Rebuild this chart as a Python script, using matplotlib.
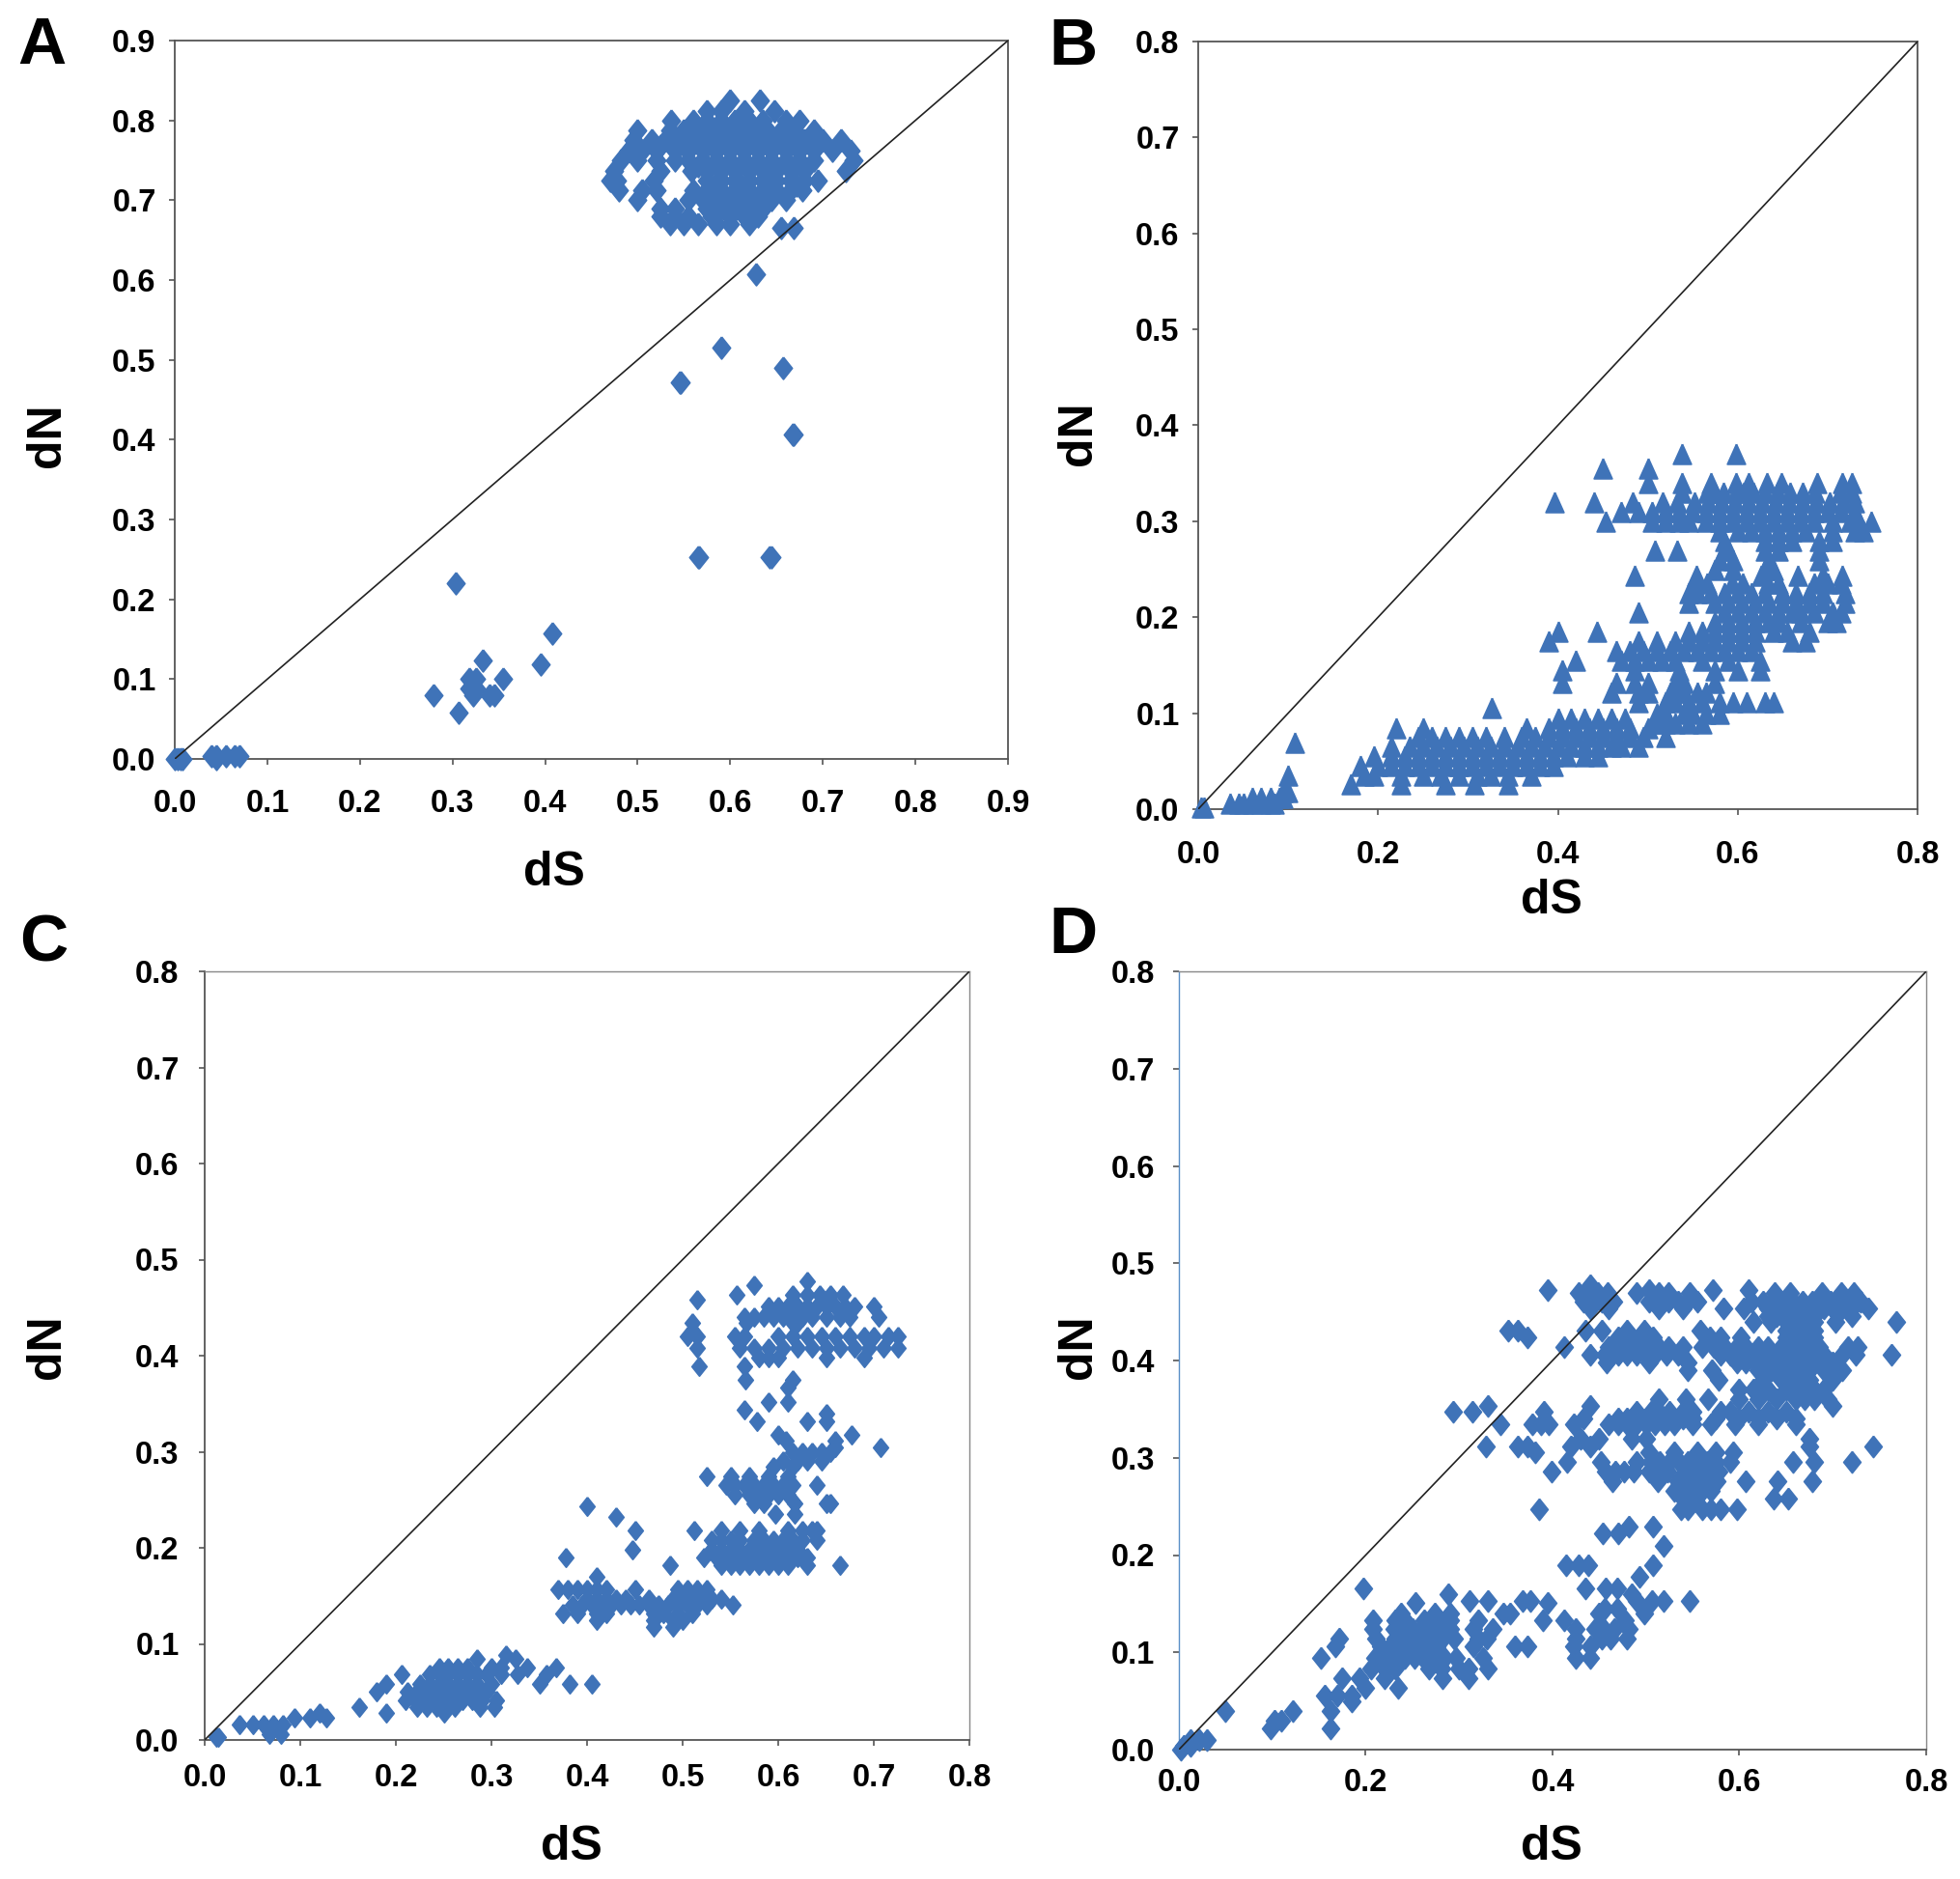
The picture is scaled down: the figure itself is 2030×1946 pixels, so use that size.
import matplotlib
matplotlib.use("Agg")
import matplotlib.pyplot as plt

plt.rcParams["font.family"] = ["Liberation Sans", "DejaVu Sans"]
plt.rcParams["font.weight"] = "bold"

W, H = 2031, 1946
BLUE = "#3F73B8"
DIAMOND = [(0, 1), (0.8, 0), (0, -1), (-0.8, 0), (0, 1)]
TRIANGLE = [(0, 1), (0.9, -1), (-0.9, -1), (0, 1)]

# each row is (dN, [dS, ...])
a_rows = [
    (0.825, [0.60, 0.632]),
    (0.812, [0.575, 0.59, 0.615, 0.648]),
    (0.80, [0.536, 0.56, 0.575, 0.59, 0.605, 0.62, 0.635, 0.66, 0.675]),
    (0.787, [0.50, 0.535, 0.55, 0.565, 0.58, 0.595, 0.61, 0.625, 0.64, 0.655, 0.67, 0.69]),
    (0.775, [0.495, 0.515, 0.53, 0.545, 0.56, 0.575, 0.59, 0.605, 0.62, 0.635, 0.65, 0.665, 0.68, 0.70, 0.72]),
    (0.768, [0.525, 0.55, 0.58, 0.61, 0.64, 0.67]),
    (0.762, [0.49, 0.505, 0.52, 0.54, 0.555, 0.57, 0.585, 0.60, 0.615, 0.63, 0.645, 0.66, 0.675, 0.69, 0.71, 0.73]),
    (0.75, [0.482, 0.50, 0.52, 0.54, 0.555, 0.57, 0.585, 0.60, 0.615, 0.63, 0.645, 0.66, 0.675, 0.69, 0.733]),
    (0.743, [0.565, 0.585, 0.61, 0.64, 0.67]),
    (0.737, [0.475, 0.525, 0.558, 0.575, 0.59, 0.605, 0.62, 0.635, 0.65, 0.665, 0.68, 0.725]),
    (0.725, [0.47, 0.478, 0.517, 0.575, 0.59, 0.605, 0.62, 0.635, 0.65, 0.665, 0.68, 0.695]),
    (0.718, [0.583, 0.612, 0.642, 0.672]),
    (0.712, [0.48, 0.505, 0.52, 0.56, 0.575, 0.59, 0.605, 0.62, 0.635, 0.65, 0.665, 0.678]),
    (0.70, [0.50, 0.555, 0.57, 0.585, 0.60, 0.615, 0.63, 0.645, 0.66]),
    (0.69, [0.525, 0.54, 0.575, 0.59, 0.605, 0.62, 0.635]),
    (0.68, [0.525, 0.54, 0.555, 0.58, 0.60, 0.615, 0.63]),
    (0.67, [0.535, 0.55, 0.565, 0.585, 0.60, 0.62]),
    (0.665, [0.655, 0.668]),
    (0.607, [0.628]),
    (0.515, [0.59]),
    (0.49, [0.657]),
    (0.472, [0.545, 0.546]),
    (0.407, [0.667, 0.668]),
    (0.253, [0.565, 0.566, 0.642, 0.645]),
    (0.22, [0.303]),
    (0.157, [0.408]),
    (0.123, [0.333]),
    (0.118, [0.395]),
    (0.10, [0.318, 0.325, 0.355]),
    (0.088, [0.325, 0.318]),
    (0.08, [0.28, 0.322, 0.34, 0.345]),
    (0.058, [0.307]),
    (0.004, [0.04, 0.045, 0.055, 0.065, 0.07]),
    (0.0, [0.0, 0.003, 0.006, 0.008, 0.045]),
]

b_rows = [
    (0.37, [0.538, 0.598]),
    (0.355, [0.45, 0.50]),
    (0.34, [0.50, 0.538, 0.57, 0.598, 0.612, 0.633, 0.649, 0.688, 0.716, 0.727]),
    (0.33, [0.538, 0.566, 0.575, 0.584, 0.598, 0.607, 0.617, 0.63, 0.644, 0.658, 0.672, 0.686, 0.714, 0.727]),
    (0.32, [0.396, 0.44, 0.483, 0.517, 0.533, 0.552, 0.567, 0.582, 0.597, 0.612, 0.627, 0.642, 0.657, 0.672, 0.687, 0.702, 0.717, 0.73]),
    (0.31, [0.47, 0.49, 0.505, 0.52, 0.535, 0.55, 0.565, 0.58, 0.595, 0.61, 0.625, 0.64, 0.655, 0.67, 0.685, 0.70, 0.715, 0.73]),
    (0.30, [0.453, 0.505, 0.52, 0.535, 0.545, 0.565, 0.58, 0.595, 0.61, 0.625, 0.64, 0.655, 0.67, 0.685, 0.705, 0.725, 0.735, 0.748]),
    (0.29, [0.58, 0.60, 0.615, 0.63, 0.645, 0.66, 0.675, 0.705, 0.73, 0.74]),
    (0.28, [0.585, 0.63, 0.645, 0.66, 0.69, 0.705]),
    (0.27, [0.508, 0.533, 0.585, 0.59, 0.63, 0.645, 0.69]),
    (0.26, [0.58, 0.595, 0.635, 0.69]),
    (0.25, [0.575, 0.595, 0.63, 0.64]),
    (0.244, [0.485, 0.554, 0.626, 0.667, 0.695, 0.716]),
    (0.235, [0.552, 0.566, 0.594, 0.606, 0.634, 0.645, 0.685, 0.70, 0.715]),
    (0.225, [0.545, 0.555, 0.57, 0.585, 0.60, 0.615, 0.63, 0.65, 0.665, 0.68, 0.695, 0.72]),
    (0.215, [0.545, 0.575, 0.59, 0.605, 0.62, 0.635, 0.65, 0.665, 0.68, 0.695, 0.72]),
    (0.205, [0.49, 0.585, 0.60, 0.615, 0.63, 0.645, 0.66, 0.67, 0.685, 0.705, 0.715]),
    (0.195, [0.575, 0.59, 0.605, 0.62, 0.635, 0.645, 0.67, 0.70, 0.71]),
    (0.185, [0.40, 0.443, 0.545, 0.56, 0.575, 0.59, 0.605, 0.62, 0.64, 0.655, 0.68]),
    (0.175, [0.39, 0.49, 0.51, 0.53, 0.545, 0.56, 0.575, 0.59, 0.605, 0.62, 0.66, 0.675]),
    (0.165, [0.465, 0.48, 0.495, 0.51, 0.525, 0.54, 0.555, 0.57, 0.585, 0.60, 0.615]),
    (0.155, [0.42, 0.47, 0.485, 0.50, 0.515, 0.53, 0.56, 0.59, 0.625]),
    (0.145, [0.405, 0.485, 0.535, 0.575, 0.60, 0.625]),
    (0.132, [0.405, 0.465, 0.485, 0.50, 0.53, 0.54, 0.575]),
    (0.122, [0.46, 0.49, 0.50, 0.525, 0.535, 0.54, 0.555, 0.565]),
    (0.112, [0.49, 0.52, 0.53, 0.545, 0.56, 0.58, 0.595, 0.61, 0.63, 0.64]),
    (0.106, [0.326]),
    (0.10, [0.51, 0.52, 0.54, 0.55, 0.565, 0.58]),
    (0.09, [0.51, 0.52, 0.53, 0.545, 0.56]),
    (0.095, [0.40, 0.415, 0.43, 0.445, 0.46, 0.475]),
    (0.085, [0.22, 0.25, 0.365, 0.39, 0.405, 0.42, 0.435, 0.45, 0.465, 0.48, 0.50]),
    (0.075, [0.245, 0.26, 0.275, 0.29, 0.305, 0.32, 0.34, 0.36, 0.375, 0.39, 0.405, 0.42, 0.435, 0.45, 0.465, 0.48, 0.495, 0.52]),
    (0.069, [0.107]),
    (0.065, [0.215, 0.235, 0.25, 0.265, 0.28, 0.295, 0.31, 0.325, 0.34, 0.355, 0.37, 0.385, 0.40, 0.415, 0.43, 0.445, 0.46, 0.47, 0.49]),
    (0.055, [0.195, 0.215, 0.23, 0.245, 0.26, 0.275, 0.29, 0.305, 0.32, 0.335, 0.35, 0.365, 0.38, 0.395, 0.41, 0.43, 0.445]),
    (0.045, [0.18, 0.20, 0.215, 0.23, 0.245, 0.26, 0.275, 0.29, 0.305, 0.32, 0.335, 0.35, 0.365, 0.38, 0.395]),
    (0.035, [0.10, 0.185, 0.195, 0.225, 0.25, 0.27, 0.29, 0.31, 0.325, 0.345, 0.37]),
    (0.026, [0.17, 0.226, 0.275, 0.307, 0.345]),
    (0.018, [0.095, 0.10]),
    (0.012, [0.06, 0.07, 0.08, 0.09, 0.095]),
    (0.006, [0.035, 0.045, 0.05, 0.06, 0.07, 0.08, 0.085]),
    (0.002, [0.003, 0.006]),
]

c_rows = [
    (0.477, [0.63]),
    (0.473, [0.575]),
    (0.463, [0.557, 0.615, 0.63, 0.643, 0.655, 0.668]),
    (0.458, [0.515]),
    (0.451, [0.59, 0.60, 0.61, 0.62, 0.63, 0.64, 0.65, 0.66, 0.67, 0.68, 0.70]),
    (0.44, [0.565, 0.575, 0.585, 0.595, 0.605, 0.615, 0.625, 0.635, 0.65, 0.665, 0.675, 0.705]),
    (0.434, [0.51, 0.567, 0.615, 0.62]),
    (0.42, [0.505, 0.515, 0.555, 0.565, 0.60, 0.615, 0.63, 0.645, 0.66, 0.675, 0.69, 0.70, 0.715, 0.725]),
    (0.408, [0.515, 0.56, 0.575, 0.59, 0.605, 0.62, 0.635, 0.65, 0.665, 0.68, 0.695, 0.71, 0.725]),
    (0.398, [0.58, 0.59, 0.60, 0.65, 0.69]),
    (0.389, [0.565, 0.517]),
    (0.375, [0.566, 0.615]),
    (0.367, [0.61]),
    (0.352, [0.59, 0.61]),
    (0.344, [0.565]),
    (0.332, [0.578, 0.63, 0.65]),
    (0.34, [0.65]),
    (0.318, [0.677, 0.60]),
    (0.312, [0.608, 0.66]),
    (0.305, [0.707, 0.66]),
    (0.30, [0.615, 0.625, 0.635, 0.645, 0.655]),
    (0.29, [0.605, 0.62, 0.63, 0.645]),
    (0.284, [0.595, 0.615]),
    (0.274, [0.525, 0.55, 0.57, 0.59, 0.61]),
    (0.265, [0.545, 0.555, 0.565, 0.575, 0.585, 0.595, 0.605, 0.615, 0.64]),
    (0.255, [0.555, 0.57, 0.58, 0.59, 0.60, 0.61]),
    (0.246, [0.575, 0.585, 0.617, 0.65, 0.655]),
    (0.243, [0.40]),
    (0.235, [0.597, 0.617]),
    (0.232, [0.43]),
    (0.218, [0.45, 0.512, 0.54, 0.56, 0.58, 0.61, 0.625, 0.635, 0.64]),
    (0.208, [0.53, 0.54, 0.55, 0.56, 0.575, 0.585, 0.595, 0.605, 0.615, 0.625, 0.64]),
    (0.198, [0.447, 0.53, 0.54, 0.55, 0.56, 0.57, 0.58, 0.59, 0.60, 0.61, 0.62]),
    (0.19, [0.378, 0.522, 0.535, 0.545, 0.555, 0.565, 0.575, 0.585, 0.595, 0.605, 0.62, 0.63]),
    (0.182, [0.487, 0.665, 0.54, 0.55, 0.56, 0.57, 0.58, 0.59, 0.60, 0.61, 0.63]),
    (0.17, [0.41]),
    (0.157, [0.37, 0.38, 0.39, 0.40, 0.41, 0.42, 0.45, 0.495, 0.505, 0.515, 0.525]),
    (0.147, [0.40, 0.41, 0.42, 0.43, 0.44, 0.465, 0.49, 0.50, 0.51, 0.52, 0.53, 0.54]),
    (0.141, [0.385, 0.395, 0.405, 0.415, 0.425, 0.435, 0.445, 0.455, 0.465, 0.475, 0.485, 0.495, 0.505, 0.515, 0.525, 0.553]),
    (0.132, [0.375, 0.39, 0.41, 0.42, 0.47, 0.48, 0.495, 0.51]),
    (0.125, [0.41, 0.47, 0.49, 0.50]),
    (0.118, [0.47, 0.49]),
    (0.088, [0.315]),
    (0.084, [0.285, 0.325]),
    (0.075, [0.245, 0.255, 0.265, 0.275, 0.30, 0.31, 0.368, 0.337]),
    (0.068, [0.206, 0.235, 0.245, 0.255, 0.265, 0.275, 0.285, 0.295, 0.31, 0.327, 0.358]),
    (0.058, [0.19, 0.225, 0.235, 0.245, 0.255, 0.265, 0.275, 0.285, 0.30, 0.35, 0.382, 0.405]),
    (0.05, [0.18, 0.212, 0.222, 0.232, 0.242, 0.252, 0.262, 0.272, 0.282, 0.295]),
    (0.041, [0.21, 0.22, 0.23, 0.24, 0.25, 0.26, 0.27, 0.28, 0.29, 0.305]),
    (0.034, [0.162, 0.222, 0.232, 0.242, 0.262, 0.288, 0.303]),
    (0.028, [0.19, 0.12, 0.25]),
    (0.023, [0.094, 0.11, 0.127]),
    (0.016, [0.036, 0.05, 0.062, 0.072, 0.082]),
    (0.006, [0.068, 0.08]),
    (0.003, [0.012, 0.014]),
]

d_rows = [
    (0.477, [0.44]),
    (0.472, [0.395, 0.503, 0.572, 0.61]),
    (0.469, [0.428, 0.438, 0.449, 0.459, 0.49, 0.514, 0.524, 0.547, 0.638, 0.654, 0.688, 0.709, 0.722]),
    (0.461, [0.433, 0.443, 0.453, 0.465, 0.503, 0.513, 0.524, 0.534, 0.545, 0.555, 0.613, 0.625, 0.636, 0.646, 0.657, 0.668, 0.678, 0.688, 0.698, 0.709, 0.72, 0.73]),
    (0.454, [0.44, 0.46, 0.514, 0.54, 0.583, 0.605, 0.63, 0.64, 0.65, 0.66, 0.67, 0.68, 0.69, 0.70, 0.71, 0.72, 0.738]),
    (0.446, [0.63, 0.64, 0.65, 0.66, 0.67, 0.68, 0.72]),
    (0.44, [0.768, 0.615, 0.634, 0.65, 0.66, 0.67, 0.68, 0.703]),
    (0.431, [0.352, 0.363, 0.435, 0.453, 0.48, 0.498, 0.558, 0.65, 0.66, 0.67, 0.68]),
    (0.424, [0.373, 0.47, 0.485, 0.498, 0.508, 0.568, 0.58, 0.602, 0.65, 0.66, 0.67, 0.68]),
    (0.414, [0.412, 0.46, 0.472, 0.482, 0.493, 0.503, 0.514, 0.524, 0.54, 0.56, 0.573, 0.584, 0.597, 0.607, 0.62, 0.63, 0.645, 0.655, 0.665, 0.675, 0.685, 0.716, 0.727]),
    (0.406, [0.763, 0.44, 0.456, 0.47, 0.48, 0.49, 0.50, 0.51, 0.522, 0.534, 0.58, 0.59, 0.60, 0.61, 0.622, 0.64, 0.65, 0.66, 0.67, 0.68, 0.69, 0.71, 0.725]),
    (0.398, [0.458, 0.503, 0.545, 0.597, 0.607, 0.617, 0.63, 0.64, 0.65, 0.66, 0.67, 0.68, 0.70]),
    (0.39, [0.545, 0.571, 0.62, 0.635, 0.645, 0.655, 0.665, 0.675, 0.69, 0.71]),
    (0.38, [0.578, 0.625, 0.645, 0.655, 0.665, 0.675, 0.70]),
    (0.37, [0.60, 0.615, 0.63, 0.65, 0.66, 0.67, 0.68, 0.69]),
    (0.36, [0.514, 0.543, 0.566, 0.60, 0.62, 0.64, 0.66, 0.67, 0.68, 0.695]),
    (0.353, [0.44, 0.331, 0.70]),
    (0.347, [0.294, 0.314, 0.391, 0.49, 0.505, 0.514, 0.525, 0.54, 0.55, 0.58, 0.59, 0.61, 0.63, 0.65]),
    (0.34, [0.433, 0.47, 0.48, 0.49, 0.50, 0.51, 0.52, 0.53, 0.54, 0.55, 0.575, 0.60, 0.62, 0.64, 0.66]),
    (0.334, [0.344, 0.378, 0.388, 0.396, 0.423, 0.46, 0.47, 0.48, 0.49, 0.50, 0.51, 0.52, 0.53, 0.55, 0.57, 0.595, 0.62, 0.66]),
    (0.32, [0.45, 0.43, 0.485, 0.50, 0.675]),
    (0.312, [0.329, 0.363, 0.373, 0.42, 0.44, 0.675, 0.743]),
    (0.306, [0.381, 0.503, 0.53, 0.555, 0.575, 0.593]),
    (0.296, [0.415, 0.452, 0.49, 0.505, 0.515, 0.525, 0.535, 0.545, 0.555, 0.565, 0.575, 0.59, 0.657, 0.68, 0.72]),
    (0.286, [0.399, 0.457, 0.467, 0.477, 0.487, 0.503, 0.513, 0.523, 0.545, 0.555, 0.568, 0.578]),
    (0.276, [0.464, 0.513, 0.534, 0.545, 0.555, 0.566, 0.576, 0.607, 0.641, 0.678]),
    (0.266, [0.53, 0.54, 0.55, 0.56, 0.57]),
    (0.258, [0.54, 0.553, 0.637, 0.652]),
    (0.247, [0.386, 0.537, 0.545, 0.56, 0.57, 0.58, 0.597]),
    (0.229, [0.482, 0.508]),
    (0.222, [0.454, 0.47]),
    (0.209, [0.519]),
    (0.19, [0.414, 0.428, 0.438, 0.507]),
    (0.178, [0.493]),
    (0.166, [0.197, 0.435, 0.457, 0.469]),
    (0.16, [0.288, 0.485]),
    (0.153, [0.311, 0.331, 0.368, 0.376, 0.49, 0.506, 0.519, 0.547]),
    (0.151, [0.253, 0.395]),
    (0.145, [0.456, 0.469]),
    (0.14, [0.238, 0.274, 0.29, 0.347, 0.355, 0.45, 0.498]),
    (0.133, [0.208, 0.232, 0.242, 0.263, 0.279, 0.29, 0.32, 0.39, 0.412, 0.478]),
    (0.124, [0.208, 0.23, 0.24, 0.25, 0.26, 0.27, 0.28, 0.29, 0.315, 0.336, 0.425, 0.445, 0.455, 0.466, 0.482]),
    (0.114, [0.172, 0.211, 0.232, 0.242, 0.252, 0.262, 0.272, 0.282, 0.295, 0.32, 0.33, 0.425, 0.453, 0.462, 0.48]),
    (0.106, [0.167, 0.216, 0.226, 0.236, 0.246, 0.256, 0.266, 0.276, 0.315, 0.36, 0.373, 0.423, 0.44]),
    (0.094, [0.152, 0.21, 0.222, 0.232, 0.242, 0.252, 0.262, 0.272, 0.284, 0.297, 0.326, 0.425, 0.44]),
    (0.083, [0.206, 0.22, 0.232, 0.268, 0.281, 0.3, 0.31, 0.331]),
    (0.073, [0.175, 0.193, 0.22, 0.282, 0.31]),
    (0.064, [0.2, 0.235]),
    (0.056, [0.156, 0.17, 0.185]),
    (0.05, [0.185]),
    (0.04, [0.05, 0.122, 0.162]),
    (0.03, [0.102, 0.11]),
    (0.022, [0.098, 0.162]),
    (0.01, [0.03, 0.022, 0.012]),
    (0.004, [0.005, 0.012]),
    (0.0, [0.002]),
]


def unpack(rows):
    ds, dn = [], []
    for y, xs in rows:
        ds.extend(xs)
        dn.extend([y] * len(xs))
    return ds, dn


def px_axes(fig, left, top, right, bottom):
    return fig.add_axes([left / W, 1 - bottom / H, (right - left) / W, (bottom - top) / H])


def panel(fig, box, rows, limit, x_ticks, y_ticks, marker, size, x_pad, y_pad):
    ax = px_axes(fig, *box)
    ds, dn = unpack(rows)
    ax.plot(ds, dn, linestyle="none", marker=marker, markersize=size, color=BLUE,
            markeredgewidth=1.2, markeredgecolor=BLUE, clip_on=False, zorder=3)
    ax.plot([0, limit], [0, limit], color="#222222", linewidth=1.2, zorder=4)
    ax.set_xlim(0, limit)
    ax.set_ylim(0, limit)
    ax.set_xticks(x_ticks)
    ax.set_yticks(y_ticks)
    ax.set_xticklabels([f"{t:.1f}" for t in x_ticks])
    ax.set_yticklabels([f"{t:.1f}" for t in y_ticks])
    ax.tick_params(axis="both", labelsize=23.5, length=4, width=1.2, color="#555555")
    ax.tick_params(axis="x", pad=x_pad)
    ax.tick_params(axis="y", pad=y_pad)
    for side in ax.spines.values():
        side.set_color("#555555")
        side.set_linewidth(1.3)
    return ax


def label(fig, x, y, text, size=36, rotation=0):
    fig.text(x / W, 1 - y / H, text, fontsize=size, fontweight="bold", rotation=rotation,
             ha="center", va="center")


fig = plt.figure(figsize=(W / 100, H / 100), dpi=100)
ticks_a = [0.0, 0.1, 0.2, 0.3, 0.4, 0.5, 0.6, 0.7, 0.8, 0.9]
ticks_b = [0.0, 0.1, 0.2, 0.3, 0.4, 0.5, 0.6, 0.7, 0.8]
even = [0.0, 0.2, 0.4, 0.6, 0.8]

ax_a = panel(fig, (181, 42, 1044, 786), a_rows, 0.9, ticks_a, ticks_a, DIAMOND, 16.5, 18, 10)
ax_b = panel(fig, (1241, 43, 1986, 838), b_rows, 0.8, even, ticks_b, TRIANGLE, 15, 19, 10)
ax_c = panel(fig, (212, 1006, 1004, 1802), c_rows, 0.8, ticks_b, ticks_b, DIAMOND, 14, 13, 15)
ax_d = panel(fig, (1221, 1006, 1995, 1812), d_rows, 0.8, even, ticks_b, DIAMOND, 16, 10, 14)

for ax in (ax_c, ax_d):
    ax.spines["top"].set_color("#888888")
    ax.spines["right"].set_color("#888888")
    ax.spines["top"].set_linewidth(1.0)
    ax.spines["right"].set_linewidth(1.0)
ax_d.spines["left"].set_color("#5B8FC7")
ax_d.spines["left"].set_linewidth(1.0)

label(fig, 574, 904, "dS")
label(fig, 49, 451, "dN", rotation=90)
label(fig, 1607, 933, "dS")
label(fig, 1117, 449, "dN", rotation=90)
label(fig, 592, 1913, "dS")
label(fig, 49, 1395, "dN", rotation=90)
label(fig, 1607, 1913, "dS")
label(fig, 1117, 1395, "dN", rotation=90)

label(fig, 43, 48, "A", size=50)
label(fig, 1111, 49, "B", size=50)
label(fig, 45, 977, "C", size=50)
label(fig, 1111, 969, "D", size=50)

fig.savefig("out.png", dpi=100, facecolor="white")
